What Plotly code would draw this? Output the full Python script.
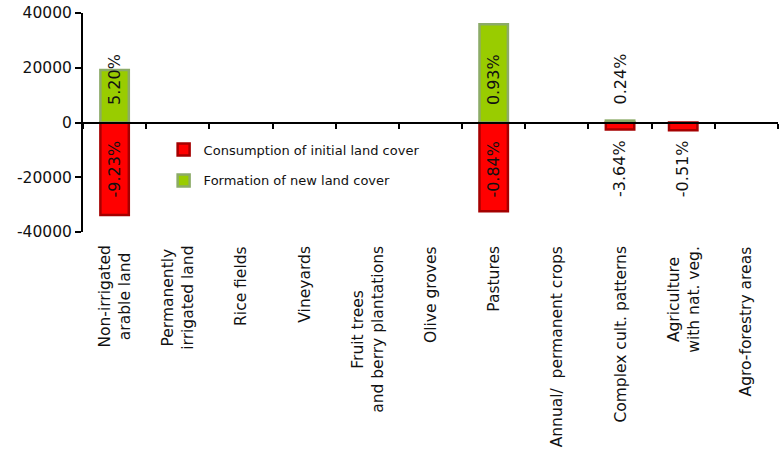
import plotly.graph_objects as go

# Agricultural land cover classes
categories = [
    "Non-irrigated<br>arable land",
    "Permanently<br>irrigated land",
    "Rice fields",
    "Vineyards",
    "Fruit trees<br>and berry plantations",
    "Olive groves",
    "Pastures",
    "Annual/  permanent crops",
    "Complex cult. patterns",
    "Agriculture<br>with nat. veg.",
    "Agro-forestry areas",
]

# Land cover flows (ha); None where no flow is shown
consumption = [-33800, None, None, None, None, None, -32400, None, -2600, -2800, None]
formation = [19200, None, None, None, None, None, 35900, None, 700, None, None]

# Percentage labels written on each series
consumption_pct = ["-9.23%", None, None, None, None, None, "-0.84%", None, "-3.64%", "-0.51%", None]
formation_pct = ["5.20%", None, None, None, None, None, "0.93%", None, "0.24%", None, None]

y_ticks = [-40000, -20000, 0, 20000, 40000]
y_min, y_max = -40000, 40000

FONT = "DejaVu Sans"

fig = go.Figure()
fig.add_trace(go.Bar(
    x=categories, y=consumption, name="Consumption of initial land cover",
    marker=dict(color="#FF0000", line=dict(color="#A50000", width=2.5)),
    legendgroup="c",
))
fig.add_trace(go.Bar(
    x=categories, y=formation, name="Formation of new land cover",
    marker=dict(color="#99CC00", line=dict(color="#8CAB68", width=2.5)),
    legendgroup="f",
))

annotations = []
# Rotated percentage labels at a fixed height above / below the axis
for cat, txt in zip(categories, formation_pct):
    if txt:
        annotations.append(dict(
            x=cat, y=5700, xref="x", yref="y", text=txt, showarrow=False,
            textangle=-90, yanchor="bottom", xanchor="center",
            font=dict(family=FONT, size=16, color="#111"),
        ))
for cat, txt in zip(categories, consumption_pct):
    if txt:
        annotations.append(dict(
            x=cat, y=-28100, xref="x", yref="y", text=txt, showarrow=False,
            textangle=-90, yanchor="bottom", xanchor="center",
            font=dict(family=FONT, size=16, color="#111"),
        ))
# Category labels below the plot area
for cat in categories:
    annotations.append(dict(
        x=cat, y=0, xref="x", yref="paper", text=cat, showarrow=False,
        textangle=-90, yanchor="top", xanchor="center", align="center",
        yshift=-12, font=dict(family=FONT, size=15.5, color="#111"),
    ))

fig.update_layout(
    width=779, height=454,
    margin=dict(l=83, r=1, t=13, b=222),
    paper_bgcolor="white", plot_bgcolor="white",
    barmode="relative", bargap=0.55,
    font=dict(family=FONT, color="#111"),
    showlegend=True,
    legend=dict(
        x=0.116, y=0.445, xanchor="left", yanchor="top",
        bgcolor="rgba(0,0,0,0)", font=dict(family=FONT, size=13, color="#111"),
        traceorder="grouped", tracegroupgap=11, itemwidth=30,
    ),
    annotations=annotations,
    xaxis=dict(
        type="category", anchor="free",
        position=(0 - y_min) / (y_max - y_min),
        showline=True, linecolor="black", linewidth=2,
        ticks="outside", tickson="boundaries", ticklen=5, tickwidth=2, tickcolor="black",
        showticklabels=False, showgrid=False,
    ),
    yaxis=dict(
        range=[y_min, y_max], tickvals=y_ticks, ticktext=[str(v) for v in y_ticks],
        showline=True, linecolor="black", linewidth=2,
        ticks="outside", ticklen=6, tickwidth=2, tickcolor="black",
        showgrid=False, zeroline=False,
        tickfont=dict(family=FONT, size=15.5, color="#111"),
    ),
)

fig.write_html("out.html")
